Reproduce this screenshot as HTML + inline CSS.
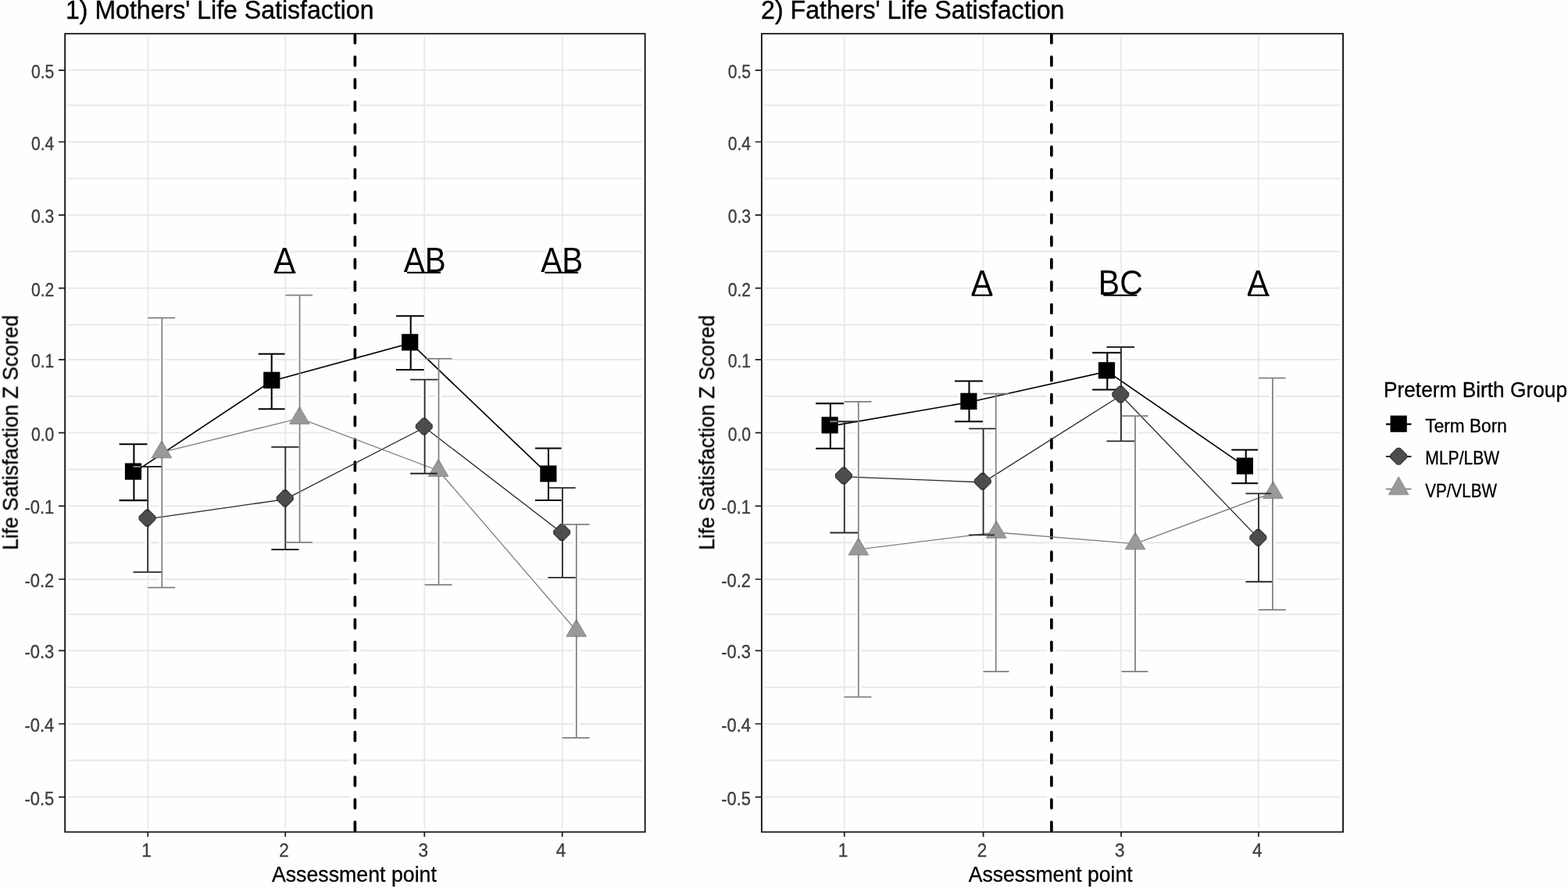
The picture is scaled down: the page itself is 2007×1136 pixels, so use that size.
<!DOCTYPE html>
<html lang="en">
<head>
<meta charset="utf-8">
<title>Life Satisfaction by Preterm Birth Group</title>
<style>
html,body{margin:0;padding:0;background:#fefefe;}
body{width:2007px;height:1136px;overflow:hidden;}
svg{display:block;}
</style>
</head>
<body>
<svg width="2007" height="1136" viewBox="0 0 2007 1136" font-family='"Liberation Sans", Arial, sans-serif'>
<defs><filter id="soft" x="-2%" y="-2%" width="104%" height="104%" color-interpolation-filters="sRGB"><feGaussianBlur stdDeviation="0.42"/></filter></defs>
<rect width="2007" height="1136" fill="#fefefe"/>
<g filter="url(#soft)">
<g>
<path d="M83.2 89.8H825.65M83.2 134.6H825.65M83.2 181.5H825.65M83.2 228.4H825.65M83.2 275.1H825.65M83.2 321.7H825.65M83.2 368.6H825.65M83.2 415.5H825.65M83.2 460.1H825.65M83.2 507.0H825.65M83.2 553.6H825.65M83.2 600.5H825.65M83.2 647.4H825.65M83.2 694.3H825.65M83.2 741.0H825.65M83.2 785.9H825.65M83.2 832.4H825.65M83.2 879.1H825.65M83.2 926.0H825.65M83.2 972.8H825.65M83.2 1019.6H825.65" stroke="#e7e7e7" stroke-width="1.9" fill="none"/>
<path d="M189.25 43.1V1064.4M365.25 43.1V1064.4M543.3 43.1V1064.4M719.7 43.1V1064.4" stroke="#eaeaea" stroke-width="1.9" fill="none"/>
<g fill="none" stroke="#fefefe" stroke-linejoin="round">
<path d="M83.2 43.1H825.65V1064.4H83.2z" stroke-width="7.9"/>
<path d="M454.4 1064.4V43.1" stroke-width="12.2" stroke-dasharray="20 8.79" stroke-dashoffset="2.8"/>
<path d="M171.40 604.40L347.70 487.55L525.70 439.00L702.00 607.20M189.20 663.90L365.30 638.70L543.60 546.75L719.90 682.20M207.30 578.60L383.60 535.10L561.50 602.20L737.80 807.00" stroke-width="6.35"/>
<path d="M152.60 568.20H188.40M171.40 568.20V640.10M152.60 640.10H188.40M330.70 452.80H364.50M347.70 452.80V523.20M330.70 523.20H364.50M507.00 404.20H542.70M525.70 404.20V473.00M507.00 473.00H542.70M685.00 573.50H718.60M702.00 573.50V640.00M685.00 640.00H718.60M170.50 597.00H207.00M189.20 597.00V731.90M170.50 731.90H207.00M347.30 571.80H382.50M365.30 571.80V703.00M347.30 703.00H382.50M525.10 485.60H560.80M543.60 485.60V605.70M525.10 605.70H560.80M701.40 624.10H736.70M719.90 624.10V738.90M701.40 738.90H736.70M189.00 406.50H224.10M207.30 406.50V751.50M189.00 751.50H224.10M365.30 377.60H400.00M383.60 377.60V693.80M365.30 693.80H400.00M543.60 458.80H578.40M561.50 458.80V748.00M543.60 748.00H578.40M719.50 670.90H754.60M737.80 670.90V943.90M719.50 943.90H754.60" stroke-width="7.85"/>
<path d="M159.90 592.60h21.2v21.2h-21.2zM337.20 475.75h21.2v21.2h-21.2zM514.10 427.20h21.2v21.2h-21.2zM691.30 595.40h21.2v21.2h-21.2zM186.60 652.30L190.40 652.30L198.90 660.80L198.90 664.60L190.40 673.10L186.60 673.10L178.10 664.60L178.10 660.80zM362.90 627.10L366.70 627.10L375.20 635.60L375.20 639.40L366.70 647.90L362.90 647.90L354.40 639.40L354.40 635.60zM540.90 535.15L544.70 535.15L553.20 543.65L553.20 547.45L544.70 555.95L540.90 555.95L532.40 547.45L532.40 543.65zM717.20 670.60L721.00 670.60L729.50 679.10L729.50 682.90L721.00 691.40L717.20 691.40L708.70 682.90L708.70 679.10zM207.00 563.80L219.80 585.80L194.20 585.80zM383.40 520.30L396.20 542.30L370.60 542.30zM561.10 587.40L573.90 609.40L548.30 609.40zM737.70 792.20L750.50 814.20L724.90 814.20z" stroke-width="6.0" fill="#fefefe"/>
</g>
<path d="M454.4 1064.4V43.1" stroke="#000" stroke-width="3.7" stroke-dasharray="10.9 17.89" stroke-dashoffset="-1.85" stroke-linecap="round" fill="none"/>
<path d="M171.40 604.40L347.70 487.55L525.70 439.00L702.00 607.20" stroke="#000000" stroke-width="1.6500000000000001" fill="none"/>
<path d="M189.20 663.90L365.30 638.70L543.60 546.75L719.90 682.20" stroke="#282828" stroke-width="1.35" fill="none"/>
<path d="M207.30 578.60L383.60 535.10L561.50 602.20L737.80 807.00" stroke="#808080" stroke-width="1.35" fill="none"/>
<path d="M152.60 568.20H188.40M171.40 568.20V640.10M152.60 640.10H188.40M330.70 452.80H364.50M347.70 452.80V523.20M330.70 523.20H364.50M507.00 404.20H542.70M525.70 404.20V473.00M507.00 473.00H542.70M685.00 573.50H718.60M702.00 573.50V640.00M685.00 640.00H718.60" stroke="#000000" stroke-width="2.0500000000000003" fill="none"/>
<path d="M159.90 592.60h21.2v21.2h-21.2zM337.20 475.75h21.2v21.2h-21.2zM514.10 427.20h21.2v21.2h-21.2zM691.30 595.40h21.2v21.2h-21.2z" fill="#000000"/>
<path d="M186.60 652.30L190.40 652.30L198.90 660.80L198.90 664.60L190.40 673.10L186.60 673.10L178.10 664.60L178.10 660.80zM362.90 627.10L366.70 627.10L375.20 635.60L375.20 639.40L366.70 647.90L362.90 647.90L354.40 639.40L354.40 635.60zM540.90 535.15L544.70 535.15L553.20 543.65L553.20 547.45L544.70 555.95L540.90 555.95L532.40 547.45L532.40 543.65zM717.20 670.60L721.00 670.60L729.50 679.10L729.50 682.90L721.00 691.40L717.20 691.40L708.70 682.90L708.70 679.10z" fill="#4d4d4d" stroke="#353535" stroke-width="1.2" stroke-linejoin="round"/>
<path d="M207.00 563.80L219.80 585.80L194.20 585.80zM383.40 520.30L396.20 542.30L370.60 542.30zM561.10 587.40L573.90 609.40L548.30 609.40zM737.70 792.20L750.50 814.20L724.90 814.20z" fill="#999999" stroke="#8a8a8a" stroke-width="1" stroke-linejoin="round"/>
<path d="M170.50 597.00H207.00M189.20 597.00V731.90M170.50 731.90H207.00M347.30 571.80H382.50M365.30 571.80V703.00M347.30 703.00H382.50M525.10 485.60H560.80M543.60 485.60V605.70M525.10 605.70H560.80M701.40 624.10H736.70M719.90 624.10V738.90M701.40 738.90H736.70" stroke="#282828" stroke-width="1.85" fill="none"/>
<path d="M189.00 406.50H224.10M207.30 406.50V751.50M189.00 751.50H224.10M365.30 377.60H400.00M383.60 377.60V693.80M365.30 693.80H400.00M543.60 458.80H578.40M561.50 458.80V748.00M543.60 748.00H578.40M719.50 670.90H754.60M737.80 670.90V943.90M719.50 943.90H754.60" stroke="#808080" stroke-width="1.75" fill="none"/>
<path d="M170.50 597.00H179.90" stroke="#7d7d7d" stroke-width="2.0" fill="none"/>
<path d="M189.20 654.10V671.30M365.30 628.90V646.10M543.60 536.95V554.15M719.90 672.40V689.60" stroke="#4d4d4d" stroke-width="3.6" fill="none"/>
<path d="M207.30 568.80V584.70M383.60 525.30V541.20M561.50 592.40V608.30M737.80 797.20V813.10" stroke="#999999" stroke-width="3.6" fill="none"/>
<text transform="translate(350.60,347.60) scale(1,1.09)" font-size="41" text-anchor="start" fill="#000" stroke="#fefefe" stroke-width="6.0" stroke-linejoin="round" paint-order="stroke">A</text>
<path d="M350.80 348.70000000000005H378.40" stroke="#000" stroke-width="2.1" fill="none"/>
<text transform="translate(516.70,347.60) scale(1,1.09)" font-size="41" text-anchor="start" fill="#000" textLength="53.9" lengthAdjust="spacingAndGlyphs" stroke="#fefefe" stroke-width="6.0" stroke-linejoin="round" paint-order="stroke">AB</text>
<path d="M521.00 348.70000000000005H564.10" stroke="#000" stroke-width="2.1" fill="none"/>
<text transform="translate(692.30,347.60) scale(1,1.09)" font-size="41" text-anchor="start" fill="#000" textLength="53.9" lengthAdjust="spacingAndGlyphs" stroke="#fefefe" stroke-width="6.0" stroke-linejoin="round" paint-order="stroke">AB</text>
<path d="M697.30 348.70000000000005H740.10" stroke="#000" stroke-width="2.1" fill="none"/>
<path d="M83.2 43.1H825.65V1064.4H83.2z" fill="none" stroke="#161616" stroke-width="1.9"/>
<path d="M75.00 89.8H83.2M75.00 181.5H83.2M75.00 275.1H83.2M75.00 368.6H83.2M75.00 460.1H83.2M75.00 553.6H83.2M75.00 647.4H83.2M75.00 741.0H83.2M75.00 832.4H83.2M75.00 926.0H83.2M75.00 1019.6H83.2M189.25 1064.4V1070.6000000000001M365.25 1064.4V1070.6000000000001M543.3 1064.4V1070.6000000000001M719.7 1064.4V1070.6000000000001" stroke="#1a1a1a" stroke-width="1.7" fill="none"/>
<text transform="translate(69.30,99.80) scale(1,1.13)" font-size="21.1" text-anchor="end" fill="#3d3d3d" stroke="#3d3d3d" stroke-width="0.3">0.5</text>
<text transform="translate(69.30,191.50) scale(1,1.13)" font-size="21.1" text-anchor="end" fill="#3d3d3d" stroke="#3d3d3d" stroke-width="0.3">0.4</text>
<text transform="translate(69.30,285.10) scale(1,1.13)" font-size="21.1" text-anchor="end" fill="#3d3d3d" stroke="#3d3d3d" stroke-width="0.3">0.3</text>
<text transform="translate(69.30,378.60) scale(1,1.13)" font-size="21.1" text-anchor="end" fill="#3d3d3d" stroke="#3d3d3d" stroke-width="0.3">0.2</text>
<text transform="translate(69.30,470.10) scale(1,1.13)" font-size="21.1" text-anchor="end" fill="#3d3d3d" stroke="#3d3d3d" stroke-width="0.3">0.1</text>
<text transform="translate(69.30,563.60) scale(1,1.13)" font-size="21.1" text-anchor="end" fill="#3d3d3d" stroke="#3d3d3d" stroke-width="0.3">0.0</text>
<text transform="translate(69.30,657.40) scale(1,1.13)" font-size="21.1" text-anchor="end" fill="#3d3d3d" stroke="#3d3d3d" stroke-width="0.3" textLength="37.8" lengthAdjust="spacingAndGlyphs">-0.1</text>
<text transform="translate(69.30,751.00) scale(1,1.13)" font-size="21.1" text-anchor="end" fill="#3d3d3d" stroke="#3d3d3d" stroke-width="0.3" textLength="37.8" lengthAdjust="spacingAndGlyphs">-0.2</text>
<text transform="translate(69.30,842.40) scale(1,1.13)" font-size="21.1" text-anchor="end" fill="#3d3d3d" stroke="#3d3d3d" stroke-width="0.3" textLength="37.8" lengthAdjust="spacingAndGlyphs">-0.3</text>
<text transform="translate(69.30,936.00) scale(1,1.13)" font-size="21.1" text-anchor="end" fill="#3d3d3d" stroke="#3d3d3d" stroke-width="0.3" textLength="37.8" lengthAdjust="spacingAndGlyphs">-0.4</text>
<text transform="translate(69.30,1029.60) scale(1,1.13)" font-size="21.1" text-anchor="end" fill="#3d3d3d" stroke="#3d3d3d" stroke-width="0.3" textLength="37.8" lengthAdjust="spacingAndGlyphs">-0.5</text>
<text transform="translate(187.65,1095.70) scale(1,1.04)" font-size="22.6" text-anchor="middle" fill="#3d3d3d" stroke="#3d3d3d" stroke-width="0.3">1</text>
<text transform="translate(363.65,1095.70) scale(1,1.04)" font-size="22.6" text-anchor="middle" fill="#3d3d3d" stroke="#3d3d3d" stroke-width="0.3">2</text>
<text transform="translate(541.70,1095.70) scale(1,1.04)" font-size="22.6" text-anchor="middle" fill="#3d3d3d" stroke="#3d3d3d" stroke-width="0.3">3</text>
<text transform="translate(718.10,1095.70) scale(1,1.04)" font-size="22.6" text-anchor="middle" fill="#3d3d3d" stroke="#3d3d3d" stroke-width="0.3">4</text>
<text transform="translate(347.90,1128.20) scale(1,1.04)" font-size="26.4" text-anchor="start" fill="#000" stroke="#000" stroke-width="0.3" textLength="211.0" lengthAdjust="spacingAndGlyphs">Assessment point</text>
<text transform="translate(22.70,553.45) rotate(-90) scale(1,1.04)" font-size="26.4" text-anchor="middle" fill="#000" stroke="#000" stroke-width="0.3">Life Satisfaction Z Scored</text>
<text transform="translate(84.00,23.80) scale(1,1.04)" font-size="31.9" text-anchor="start" fill="#000" stroke="#000" stroke-width="0.4" textLength="394.5" lengthAdjust="spacingAndGlyphs">1) Mothers' Life Satisfaction</text>
</g>
<g>
<path d="M974.9 89.8H1719.05M974.9 134.6H1719.05M974.9 181.5H1719.05M974.9 228.4H1719.05M974.9 275.1H1719.05M974.9 321.7H1719.05M974.9 368.6H1719.05M974.9 415.5H1719.05M974.9 460.1H1719.05M974.9 507.0H1719.05M974.9 553.6H1719.05M974.9 600.5H1719.05M974.9 647.4H1719.05M974.9 694.3H1719.05M974.9 741.0H1719.05M974.9 785.9H1719.05M974.9 832.4H1719.05M974.9 879.1H1719.05M974.9 926.0H1719.05M974.9 972.8H1719.05M974.9 1019.6H1719.05" stroke="#e7e7e7" stroke-width="1.9" fill="none"/>
<path d="M1080.75 43.1V1064.4M1258.6 43.1V1064.4M1435.0 43.1V1064.4M1610.95 43.1V1064.4" stroke="#eaeaea" stroke-width="1.9" fill="none"/>
<g fill="none" stroke="#fefefe" stroke-linejoin="round">
<path d="M974.9 43.1H1719.05V1064.4H974.9z" stroke-width="7.9"/>
<path d="M1345.9 1064.4V43.1" stroke-width="12.2" stroke-dasharray="20 8.79" stroke-dashoffset="2.8"/>
<path d="M1062.90 545.10L1240.50 514.55L1417.30 475.10L1594.70 597.40M1080.80 609.80L1258.60 617.00L1434.90 505.80L1611.00 688.90M1098.80 702.80L1274.70 681.00L1453.00 695.60L1628.90 630.50" stroke-width="6.35"/>
<path d="M1044.20 516.10H1079.90M1062.90 516.10V573.75M1044.20 573.75H1079.90M1222.00 487.40H1258.00M1240.50 487.40V539.30M1222.00 539.30H1258.00M1398.10 451.30H1434.50M1417.30 451.30V498.40M1398.10 498.40H1434.50M1576.30 575.40H1610.10M1594.70 575.40V618.20M1576.30 618.20H1610.10M1062.30 539.20H1098.00M1080.80 539.20V681.50M1062.30 681.50H1098.00M1240.10 548.40H1275.20M1258.60 548.40V684.40M1240.10 684.40H1275.20M1416.40 444.00H1452.10M1434.90 444.00V564.40M1416.40 564.40H1452.10M1594.40 631.40H1628.00M1611.00 631.40V744.20M1594.40 744.20H1628.00M1080.30 513.90H1115.40M1098.80 513.90V891.70M1080.30 891.70H1115.40M1258.60 503.65H1291.50M1274.70 503.65V859.10M1258.60 859.10H1291.50M1435.50 532.00H1469.60M1453.00 532.00V859.10M1435.50 859.10H1469.60M1610.80 483.50H1645.60M1628.90 483.50V780.20M1610.80 780.20H1645.60" stroke-width="7.85"/>
<path d="M1051.50 533.30h21.2v21.2h-21.2zM1229.30 502.75h21.2v21.2h-21.2zM1405.90 463.30h21.2v21.2h-21.2zM1582.80 585.60h21.2v21.2h-21.2zM1078.00 598.20L1081.80 598.20L1090.30 606.70L1090.30 610.50L1081.80 619.00L1078.00 619.00L1069.50 610.50L1069.50 606.70zM1255.90 605.40L1259.70 605.40L1268.20 613.90L1268.20 617.70L1259.70 626.20L1255.90 626.20L1247.40 617.70L1247.40 613.90zM1432.40 494.20L1436.20 494.20L1444.70 502.70L1444.70 506.50L1436.20 515.00L1432.40 515.00L1423.90 506.50L1423.90 502.70zM1608.50 677.30L1612.30 677.30L1620.80 685.80L1620.80 689.60L1612.30 698.10L1608.50 698.10L1600.00 689.60L1600.00 685.80zM1098.80 688.00L1111.60 710.00L1086.00 710.00zM1275.30 666.20L1288.10 688.20L1262.50 688.20zM1453.00 680.80L1465.80 702.80L1440.20 702.80zM1629.50 615.70L1642.30 637.70L1616.70 637.70z" stroke-width="6.0" fill="#fefefe"/>
</g>
<path d="M1345.9 1064.4V43.1" stroke="#000" stroke-width="3.7" stroke-dasharray="10.9 17.89" stroke-dashoffset="-1.85" stroke-linecap="round" fill="none"/>
<path d="M1062.90 545.10L1240.50 514.55L1417.30 475.10L1594.70 597.40" stroke="#000000" stroke-width="1.6500000000000001" fill="none"/>
<path d="M1080.80 609.80L1258.60 617.00L1434.90 505.80L1611.00 688.90" stroke="#282828" stroke-width="1.35" fill="none"/>
<path d="M1098.80 702.80L1274.70 681.00L1453.00 695.60L1628.90 630.50" stroke="#808080" stroke-width="1.35" fill="none"/>
<path d="M1044.20 516.10H1079.90M1062.90 516.10V573.75M1044.20 573.75H1079.90M1222.00 487.40H1258.00M1240.50 487.40V539.30M1222.00 539.30H1258.00M1398.10 451.30H1434.50M1417.30 451.30V498.40M1398.10 498.40H1434.50M1576.30 575.40H1610.10M1594.70 575.40V618.20M1576.30 618.20H1610.10" stroke="#000000" stroke-width="2.0500000000000003" fill="none"/>
<path d="M1051.50 533.30h21.2v21.2h-21.2zM1229.30 502.75h21.2v21.2h-21.2zM1405.90 463.30h21.2v21.2h-21.2zM1582.80 585.60h21.2v21.2h-21.2z" fill="#000000"/>
<path d="M1078.00 598.20L1081.80 598.20L1090.30 606.70L1090.30 610.50L1081.80 619.00L1078.00 619.00L1069.50 610.50L1069.50 606.70zM1255.90 605.40L1259.70 605.40L1268.20 613.90L1268.20 617.70L1259.70 626.20L1255.90 626.20L1247.40 617.70L1247.40 613.90zM1432.40 494.20L1436.20 494.20L1444.70 502.70L1444.70 506.50L1436.20 515.00L1432.40 515.00L1423.90 506.50L1423.90 502.70zM1608.50 677.30L1612.30 677.30L1620.80 685.80L1620.80 689.60L1612.30 698.10L1608.50 698.10L1600.00 689.60L1600.00 685.80z" fill="#4d4d4d" stroke="#353535" stroke-width="1.2" stroke-linejoin="round"/>
<path d="M1098.80 688.00L1111.60 710.00L1086.00 710.00zM1275.30 666.20L1288.10 688.20L1262.50 688.20zM1453.00 680.80L1465.80 702.80L1440.20 702.80zM1629.50 615.70L1642.30 637.70L1616.70 637.70z" fill="#999999" stroke="#8a8a8a" stroke-width="1" stroke-linejoin="round"/>
<path d="M1062.30 539.20H1098.00M1080.80 539.20V681.50M1062.30 681.50H1098.00M1240.10 548.40H1275.20M1258.60 548.40V684.40M1240.10 684.40H1275.20M1416.40 444.00H1452.10M1434.90 444.00V564.40M1416.40 564.40H1452.10M1594.40 631.40H1628.00M1611.00 631.40V744.20M1594.40 744.20H1628.00" stroke="#282828" stroke-width="1.85" fill="none"/>
<path d="M1080.30 513.90H1115.40M1098.80 513.90V891.70M1080.30 891.70H1115.40M1258.60 503.65H1291.50M1274.70 503.65V859.10M1258.60 859.10H1291.50M1435.50 532.00H1469.60M1453.00 532.00V859.10M1435.50 859.10H1469.60M1610.80 483.50H1645.60M1628.90 483.50V780.20M1610.80 780.20H1645.60" stroke="#808080" stroke-width="1.75" fill="none"/>
<path d="M1062.30 539.20H1071.50" stroke="#7d7d7d" stroke-width="2.0" fill="none"/>
<path d="M1080.80 600.00V617.20M1258.60 607.20V624.40M1434.90 496.00V513.20M1611.00 679.10V696.30" stroke="#4d4d4d" stroke-width="3.6" fill="none"/>
<path d="M1098.80 693.00V708.90M1274.70 671.20V687.10M1453.00 685.80V701.70M1628.90 620.70V636.60" stroke="#999999" stroke-width="3.6" fill="none"/>
<text transform="translate(1243.30,376.60) scale(1,1.09)" font-size="41" text-anchor="start" fill="#000" stroke="#fefefe" stroke-width="6.0" stroke-linejoin="round" paint-order="stroke">A</text>
<path d="M1243.70 377.70000000000005H1270.30" stroke="#000" stroke-width="2.1" fill="none"/>
<text transform="translate(1405.80,376.60) scale(1,1.09)" font-size="41" text-anchor="start" fill="#000" textLength="57.0" lengthAdjust="spacingAndGlyphs" stroke="#fefefe" stroke-width="6.0" stroke-linejoin="round" paint-order="stroke">BC</text>
<path d="M1412.30 377.70000000000005H1455.40" stroke="#000" stroke-width="2.1" fill="none"/>
<text transform="translate(1596.60,376.60) scale(1,1.09)" font-size="41" text-anchor="start" fill="#000" stroke="#fefefe" stroke-width="6.0" stroke-linejoin="round" paint-order="stroke">A</text>
<path d="M1597.10 377.70000000000005H1624.60" stroke="#000" stroke-width="2.1" fill="none"/>
<path d="M974.9 43.1H1719.05V1064.4H974.9z" fill="none" stroke="#161616" stroke-width="1.9"/>
<path d="M966.70 89.8H974.9M966.70 181.5H974.9M966.70 275.1H974.9M966.70 368.6H974.9M966.70 460.1H974.9M966.70 553.6H974.9M966.70 647.4H974.9M966.70 741.0H974.9M966.70 832.4H974.9M966.70 926.0H974.9M966.70 1019.6H974.9M1080.75 1064.4V1070.6000000000001M1258.6 1064.4V1070.6000000000001M1435.0 1064.4V1070.6000000000001M1610.95 1064.4V1070.6000000000001" stroke="#1a1a1a" stroke-width="1.7" fill="none"/>
<text transform="translate(961.00,99.80) scale(1,1.13)" font-size="21.1" text-anchor="end" fill="#3d3d3d" stroke="#3d3d3d" stroke-width="0.3">0.5</text>
<text transform="translate(961.00,191.50) scale(1,1.13)" font-size="21.1" text-anchor="end" fill="#3d3d3d" stroke="#3d3d3d" stroke-width="0.3">0.4</text>
<text transform="translate(961.00,285.10) scale(1,1.13)" font-size="21.1" text-anchor="end" fill="#3d3d3d" stroke="#3d3d3d" stroke-width="0.3">0.3</text>
<text transform="translate(961.00,378.60) scale(1,1.13)" font-size="21.1" text-anchor="end" fill="#3d3d3d" stroke="#3d3d3d" stroke-width="0.3">0.2</text>
<text transform="translate(961.00,470.10) scale(1,1.13)" font-size="21.1" text-anchor="end" fill="#3d3d3d" stroke="#3d3d3d" stroke-width="0.3">0.1</text>
<text transform="translate(961.00,563.60) scale(1,1.13)" font-size="21.1" text-anchor="end" fill="#3d3d3d" stroke="#3d3d3d" stroke-width="0.3">0.0</text>
<text transform="translate(961.00,657.40) scale(1,1.13)" font-size="21.1" text-anchor="end" fill="#3d3d3d" stroke="#3d3d3d" stroke-width="0.3" textLength="37.8" lengthAdjust="spacingAndGlyphs">-0.1</text>
<text transform="translate(961.00,751.00) scale(1,1.13)" font-size="21.1" text-anchor="end" fill="#3d3d3d" stroke="#3d3d3d" stroke-width="0.3" textLength="37.8" lengthAdjust="spacingAndGlyphs">-0.2</text>
<text transform="translate(961.00,842.40) scale(1,1.13)" font-size="21.1" text-anchor="end" fill="#3d3d3d" stroke="#3d3d3d" stroke-width="0.3" textLength="37.8" lengthAdjust="spacingAndGlyphs">-0.3</text>
<text transform="translate(961.00,936.00) scale(1,1.13)" font-size="21.1" text-anchor="end" fill="#3d3d3d" stroke="#3d3d3d" stroke-width="0.3" textLength="37.8" lengthAdjust="spacingAndGlyphs">-0.4</text>
<text transform="translate(961.00,1029.60) scale(1,1.13)" font-size="21.1" text-anchor="end" fill="#3d3d3d" stroke="#3d3d3d" stroke-width="0.3" textLength="37.8" lengthAdjust="spacingAndGlyphs">-0.5</text>
<text transform="translate(1079.15,1095.70) scale(1,1.04)" font-size="22.6" text-anchor="middle" fill="#3d3d3d" stroke="#3d3d3d" stroke-width="0.3">1</text>
<text transform="translate(1257.00,1095.70) scale(1,1.04)" font-size="22.6" text-anchor="middle" fill="#3d3d3d" stroke="#3d3d3d" stroke-width="0.3">2</text>
<text transform="translate(1433.40,1095.70) scale(1,1.04)" font-size="22.6" text-anchor="middle" fill="#3d3d3d" stroke="#3d3d3d" stroke-width="0.3">3</text>
<text transform="translate(1609.35,1095.70) scale(1,1.04)" font-size="22.6" text-anchor="middle" fill="#3d3d3d" stroke="#3d3d3d" stroke-width="0.3">4</text>
<text transform="translate(1239.70,1128.20) scale(1,1.04)" font-size="26.4" text-anchor="start" fill="#000" stroke="#000" stroke-width="0.3" textLength="209.9" lengthAdjust="spacingAndGlyphs">Assessment point</text>
<text transform="translate(914.10,553.45) rotate(-90) scale(1,1.04)" font-size="26.4" text-anchor="middle" fill="#000" stroke="#000" stroke-width="0.3">Life Satisfaction Z Scored</text>
<text transform="translate(974.00,23.80) scale(1,1.04)" font-size="31.9" text-anchor="start" fill="#000" stroke="#000" stroke-width="0.4" textLength="388.5" lengthAdjust="spacingAndGlyphs">2) Fathers' Life Satisfaction</text>
</g>
<g>
<text transform="translate(1771.00,507.90) scale(1,1.03)" font-size="26.4" text-anchor="start" fill="#000" stroke="#000" stroke-width="0.3" textLength="235.0" lengthAdjust="spacingAndGlyphs">Preterm Birth Group</text>
<path d="M1774.0 542.6H1806.4" stroke="#000000" stroke-width="2.2"/>
<path d="M1779.60 531.60h21.2v21.2h-21.2z" fill="#000000"/>
<text transform="translate(1824.30,552.90) scale(1,1.13)" font-size="21.1" text-anchor="start" fill="#000" stroke="#000" stroke-width="0.3" textLength="104.5" lengthAdjust="spacingAndGlyphs">Term Born</text>
<path d="M1774.0 584.0H1806.4" stroke="#282828" stroke-width="2.0"/>
<path d="M1788.30 573.30L1792.10 573.30L1800.60 581.80L1800.60 585.60L1792.10 594.10L1788.30 594.10L1779.80 585.60L1779.80 581.80z" fill="#4d4d4d" stroke="#353535" stroke-width="1.2" stroke-linejoin="round"/>
<text transform="translate(1824.30,594.30) scale(1,1.13)" font-size="21.1" text-anchor="start" fill="#000" stroke="#000" stroke-width="0.3" textLength="95.0" lengthAdjust="spacingAndGlyphs">MLP/LBW</text>
<path d="M1774.0 625.6H1806.4" stroke="#808080" stroke-width="1.9"/>
<path d="M1790.20 609.80L1803.00 632.80L1777.40 632.80z" fill="#999999" stroke="#8a8a8a" stroke-width="1" stroke-linejoin="round"/>
<text transform="translate(1824.30,635.60) scale(1,1.13)" font-size="21.1" text-anchor="start" fill="#000" stroke="#000" stroke-width="0.3" textLength="91.7" lengthAdjust="spacingAndGlyphs">VP/VLBW</text>
</g>
</g>
</svg>
</body>
</html>
